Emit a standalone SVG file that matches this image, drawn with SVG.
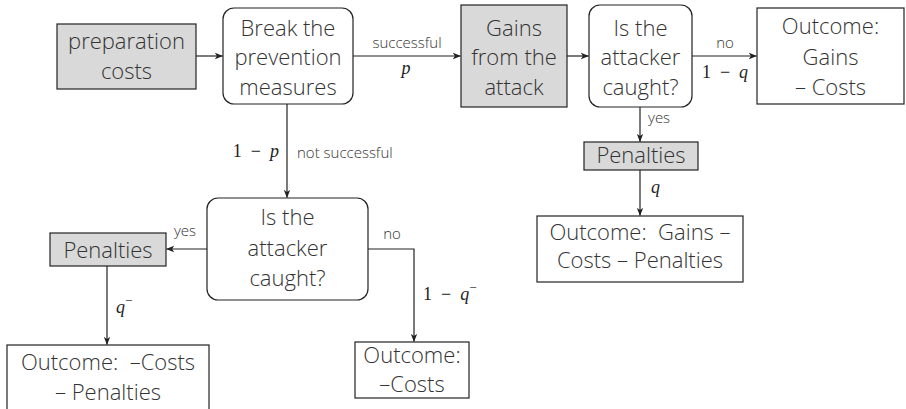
<svg xmlns="http://www.w3.org/2000/svg" width="906" height="409" viewBox="0 0 906 409">
  <style>
    .box { fill: #ffffff; stroke: #222; stroke-width: 1.2; }
    .cost { fill: #d9d9d9; stroke: #222; stroke-width: 1.2; }
    .t { font-family: "Open Sans", "Liberation Sans", sans-serif; font-weight: 300; font-size: 22px; fill: #333; text-anchor: middle; }
    .lbl { font-family: "Open Sans", "Liberation Sans", sans-serif; font-weight: 300; font-size: 15px; fill: #333; }
    .m { font-family: "Liberation Serif", "DejaVu Serif", serif; font-size: 18px; fill: #222; }
    .mi { font-style: italic; }
    .edge { fill: none; stroke: #222; stroke-width: 1.2; marker-end: url(#arr); }
  </style>
  <defs>
    <marker id="arr" viewBox="0 0 10 10" refX="9.5" refY="5" markerWidth="8" markerHeight="8" markerUnits="userSpaceOnUse" orient="auto">
      <path d="M0,1 L10,5 L0,9 L2.5,5 Z" fill="#222"/>
    </marker>
  </defs>

  <rect width="906" height="409" fill="#ffffff"/>

  <g id="connectors">
    <path class="edge" d="M196,56 H222.5"/>
    <path class="edge" d="M353,56 H460.5"/>
    <path class="edge" d="M567,56 H588.5"/>
    <path class="edge" d="M692,56 H756.5"/>
    <path class="edge" d="M640,107 V141.5"/>
    <path class="edge" d="M640,170 V215.5"/>
    <path class="edge" d="M287,104 V197.5"/>
    <path class="edge" d="M207,249 H166.5"/>
    <path class="edge" d="M368,249 H414 V341.5"/>
    <path class="edge" d="M107,266 V344.5"/>

    <text class="lbl" x="407" y="48" text-anchor="middle">successful</text>
    <text class="m mi" x="406" y="74" text-anchor="middle">p</text>
    <text class="lbl" x="725" y="48" text-anchor="middle">no</text>
    <text class="m" x="725" y="78" text-anchor="middle">1&#8194;−&#8194;<tspan class="mi">q</tspan></text>
    <text class="lbl" x="648" y="123">yes</text>
    <text class="m mi" x="651" y="193">q</text>
    <text class="m" x="279" y="157" text-anchor="end">1&#8194;−&#8194;<tspan class="mi">p</tspan></text>
    <text class="lbl" x="297" y="158">not successful</text>
    <text class="lbl" x="392" y="239" text-anchor="middle">no</text>
    <text class="lbl" x="185" y="236" text-anchor="middle">yes</text>
    <text class="m" x="116" y="313"><tspan class="mi">q</tspan><tspan dy="-8" font-size="13">−</tspan></text>
    <text class="m" x="423" y="300">1&#8194;−&#8194;<tspan class="mi">q</tspan><tspan dy="-8" font-size="13">−</tspan></text>
  </g>

  <g id="prep">
    <rect class="cost" x="57" y="24" width="139" height="65"/>
    <text class="t" x="126.5" y="49">preparation</text>
    <text class="t" x="126.5" y="79">costs</text>
  </g>

  <g id="break">
    <rect class="box" x="223" y="8" width="130" height="96" rx="11"/>
    <text class="t" x="288" y="36">Break the</text>
    <text class="t" x="288" y="65">prevention</text>
    <text class="t" x="288" y="95">measures</text>
  </g>

  <g id="gains">
    <rect class="cost" x="461" y="5" width="106" height="102"/>
    <text class="t" x="514" y="36">Gains</text>
    <text class="t" x="514" y="65">from the</text>
    <text class="t" x="514" y="95">attack</text>
  </g>

  <g id="caught-success">
    <rect class="box" x="589" y="5" width="103" height="102" rx="11"/>
    <text class="t" x="640.5" y="36">Is the</text>
    <text class="t" x="640.5" y="65">attacker</text>
    <text class="t" x="640.5" y="95">caught?</text>
  </g>

  <g id="outcome-gains">
    <rect class="box" x="757" y="8" width="147" height="96"/>
    <text class="t" x="830.5" y="34">Outcome:</text>
    <text class="t" x="830.5" y="65">Gains</text>
    <text class="t" x="830.5" y="95">– Costs</text>
  </g>

  <g id="penalties-success">
    <rect class="cost" x="584" y="142" width="114" height="28"/>
    <text class="t" x="641" y="163">Penalties</text>
  </g>

  <g id="outcome-gains-penalties">
    <rect class="box" x="537" y="216" width="206" height="66"/>
    <text class="t" x="640" y="240">Outcome:&#160; Gains –</text>
    <text class="t" x="640" y="268">Costs – Penalties</text>
  </g>

  <g id="caught-fail">
    <rect class="box" x="207" y="198" width="161" height="102" rx="11"/>
    <text class="t" x="287.5" y="225">Is the</text>
    <text class="t" x="287.5" y="256">attacker</text>
    <text class="t" x="287.5" y="286">caught?</text>
  </g>

  <g id="penalties-fail">
    <rect class="cost" x="50" y="233" width="116" height="33"/>
    <text class="t" x="108" y="258">Penalties</text>
  </g>

  <g id="outcome-costs-penalties">
    <rect class="box" x="7" y="345" width="202" height="80"/>
    <text class="t" x="108" y="370">Outcome:&#160; –Costs</text>
    <text class="t" x="108" y="400">– Penalties</text>
  </g>

  <g id="outcome-costs">
    <rect class="box" x="355" y="342" width="114" height="56"/>
    <text class="t" x="412" y="363" font-size="21">Outcome:</text>
    <text class="t" x="412" y="392" font-size="21">–Costs</text>
  </g>
</svg>
